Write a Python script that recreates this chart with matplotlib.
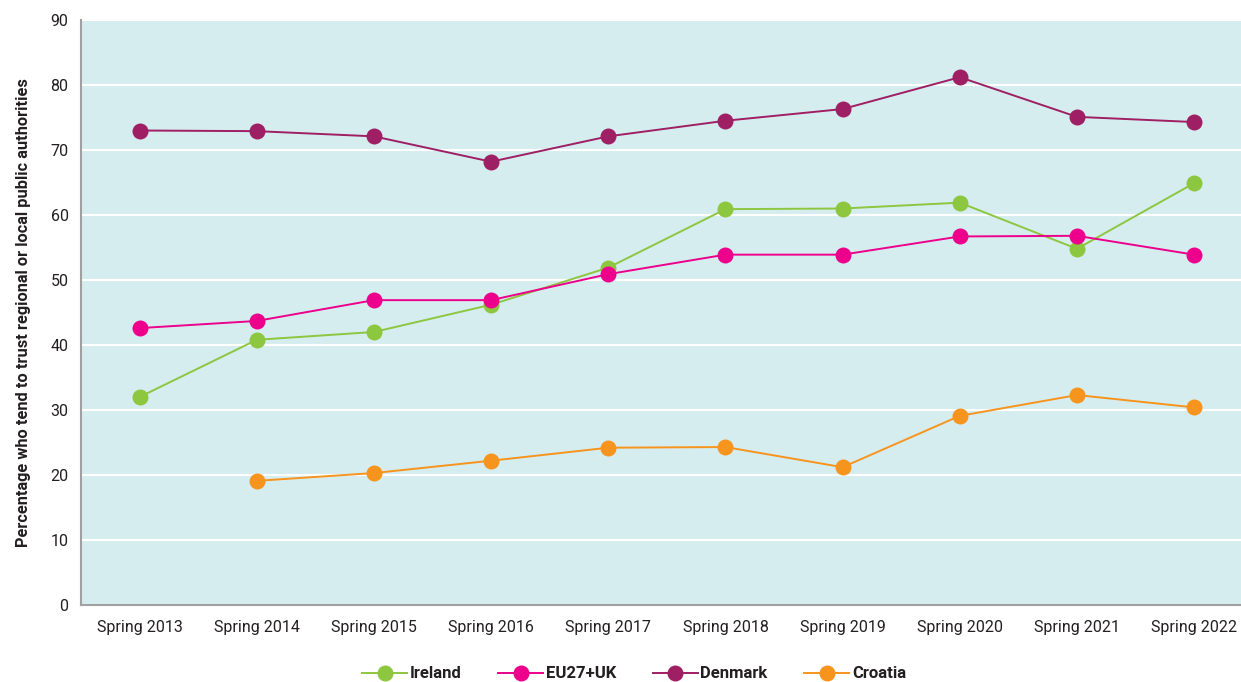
import matplotlib
matplotlib.use("Agg")
import matplotlib.pyplot as plt

plt.rcParams['font.family'] = ['Roboto', 'DejaVu Sans']

periods = ["Spring 2013", "Spring 2014", "Spring 2015", "Spring 2016", "Spring 2017",
           "Spring 2018", "Spring 2019", "Spring 2020", "Spring 2021", "Spring 2022"]

ireland = [32.0, 40.8, 42.0, 46.2, 51.9, 60.9, 61.0, 61.9, 54.8, 64.9]
eu27_uk = [42.6, 43.7, 46.9, 46.9, 50.9, 53.9, 53.9, 56.7, 56.8, 53.9]
denmark = [73.0, 72.9, 72.1, 68.2, 72.1, 74.5, 76.3, 81.2, 75.1, 74.3]
croatia = [None, 19.1, 20.3, 22.2, 24.2, 24.3, 21.2, 29.1, 32.3, 30.4]

series = [
    ("Ireland", ireland, "#8dc63f"),
    ("EU27+UK", eu27_uk, "#ec008c"),
    ("Denmark", denmark, "#9e1f63"),
    ("Croatia", croatia, "#f7941d"),
]

fig = plt.figure(figsize=(12.41, 6.82), dpi=100)
ax = fig.add_axes([81 / 1241, 1 - 605 / 682, 1 - 81 / 1241, (605 - 20) / 682])
ax.set_facecolor("#d6edf0")

x = list(range(len(periods)))
for name, vals, color in series:
    pts = [(xi, v) for xi, v in zip(x, vals) if v is not None]
    ax.plot([p[0] for p in pts], [p[1] for p in pts], color=color, lw=1.4,
            marker="o", markersize=11.5, markeredgewidth=0, label=name, zorder=3)

ax.set_ylim(0, 90)
ax.set_yticks(range(0, 91, 10))
ax.set_xlim(-0.5, 9.4)
ax.set_xticks(x)
ax.set_xticklabels(periods)
ax.grid(axis="y", color="white", lw=1.5, zorder=0)
ax.set_axisbelow(True)
for s in ("top", "right"):
    ax.spines[s].set_visible(False)
for s in ("left", "bottom"):
    ax.spines[s].set_color("#a0a0a0")
    ax.spines[s].set_linewidth(1.5)
ax.tick_params(length=0, labelsize=11.5, colors="#231f20")
ax.tick_params(axis="x", pad=11)
ax.tick_params(axis="y", pad=9)
ax.set_ylabel("Percentage who tend to trust regional or local public authorities",
              fontsize=11.8, fontweight="bold", color="#231f20", labelpad=14)

leg = fig.legend(loc="center", bbox_to_anchor=(0.511, 1 - 674 / 682), ncol=4, frameon=False,
                 handlelength=2.7, columnspacing=2.2, handletextpad=0.15,
                 prop={"weight": "bold", "size": 12})
for t in leg.get_texts():
    t.set_color("#231f20")

fig.savefig("out.png", dpi=100)
